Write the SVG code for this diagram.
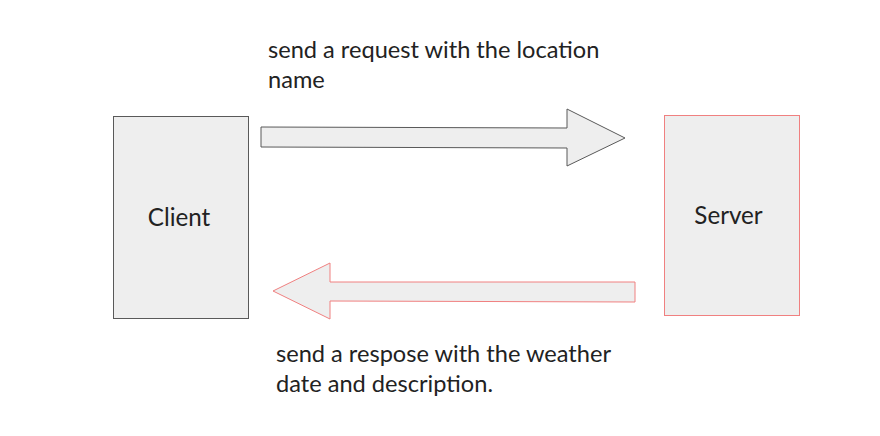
<svg xmlns="http://www.w3.org/2000/svg" width="880" height="436" viewBox="0 0 880 436">
<style>
.box{fill:#eeeeee;stroke-width:1}
.t{font-family:Lato,"Open Sans",sans-serif;font-size:23.6px;fill:#222}
.n{font-family:Lato,"Open Sans",sans-serif;font-size:24.2px;fill:#222}
</style>
<rect width="880" height="436" fill="#fff"/>
<g id="client">
<rect class="box" x="113.5" y="116.5" width="135" height="202" stroke="#595959"/>
<text class="n" x="179" y="226" text-anchor="middle">Client</text>
</g>
<g id="server">
<rect class="box" x="664.5" y="115.5" width="135" height="200" stroke="#f08080"/>
<text class="n" x="728.5" y="224" text-anchor="middle">Server</text>
</g>
<g id="connectors">
<polygon points="261,127 567,128 567,109 625,138 567,166 567,148 261,147" fill="#eeeeee" stroke="#595959" stroke-width="1"/>
<polygon points="635,282 330,282 330,263 273,291 330,319 330,301 635,302" fill="#eeeeee" stroke="#f08080" stroke-width="1"/>
</g>
<g id="labels">
<text class="t" x="268" y="58">send a request with the location</text>
<text class="t" x="268" y="88">name</text>
<text class="t" x="276" y="362">send a respose with the weather</text>
<text class="t" x="276" y="392">date and description.</text>
</g>
</svg>
